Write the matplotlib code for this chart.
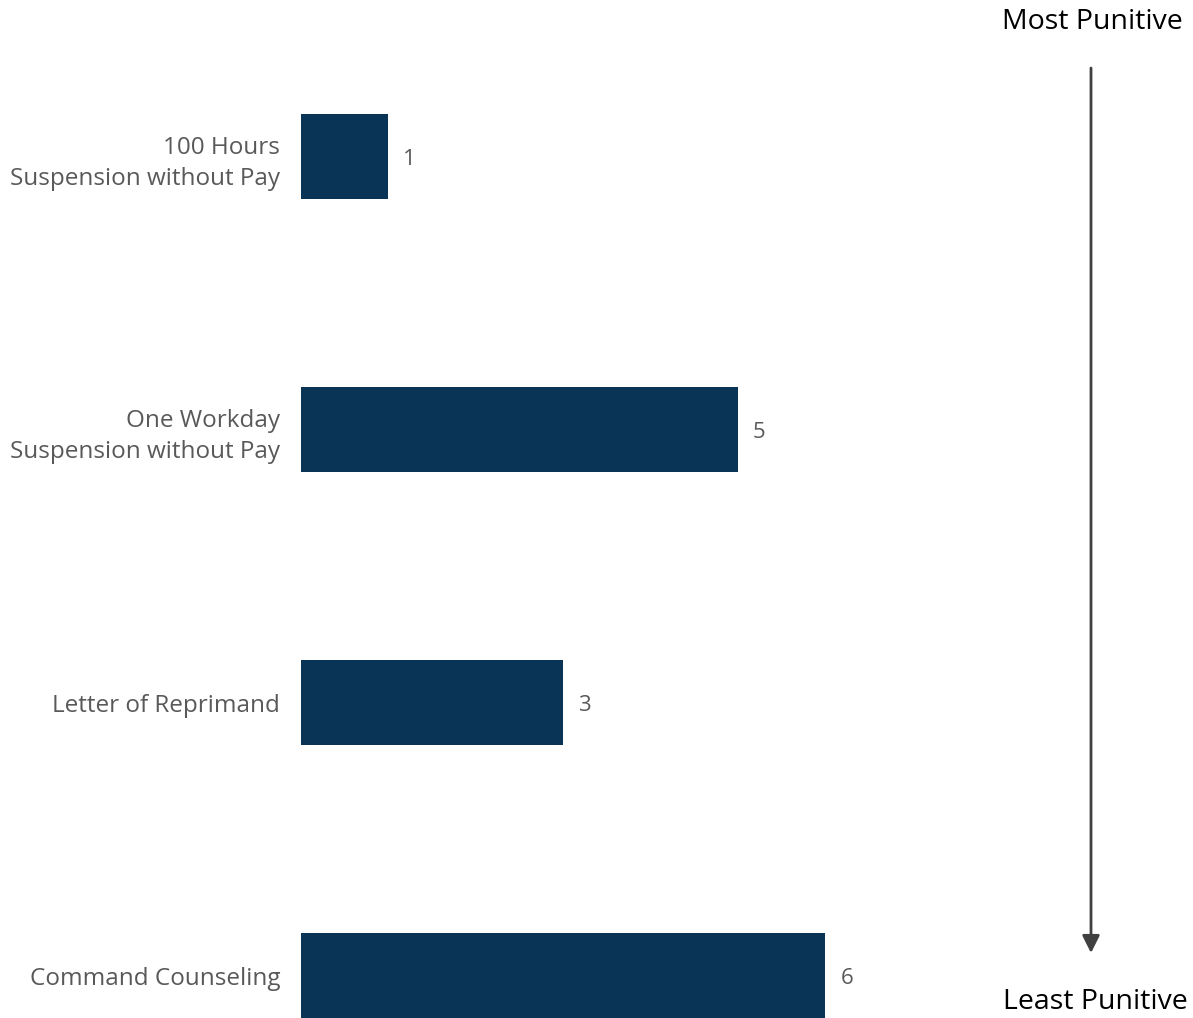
import matplotlib
matplotlib.use("Agg")
import matplotlib.pyplot as plt

categories = ["100 Hours\nSuspension without Pay", "One Workday\nSuspension without Pay",
              "Letter of Reprimand", "Command Counseling"]
values = [1, 5, 3, 6]

W, H = 1193, 1018
fig = plt.figure(figsize=(W / 100, H / 100), dpi=100)
plt.rcParams['font.family'] = ['Open Sans', 'DejaVu Sans']

left_px = 301
right_px = 301 + 8 * 87.4
ax = fig.add_axes([left_px / W, 0, (right_px - left_px) / W, 1])
pos = list(range(len(categories)))
ax.barh(pos, values, height=0.311, color="#0a3455")
ax.set_xlim(0, 8)
ax.set_ylim((1018 - 156.5) / 273, -156.5 / 273)
for s in ax.spines.values():
    s.set_visible(False)
ax.set_xticks([])
ax.set_yticks(pos)
ax.set_yticklabels(categories, fontsize=17.5, color="#595959", ha="right",
                   linespacing=1.4)
ax.tick_params(axis="y", length=0, pad=15)
for p, v in zip(pos, values):
    ax.text(v + 0.17, p + 0.01, str(v), va="center", ha="left", fontsize=16, color="#595959")

fig.text(1092 / W, 1 - 22 / H, "Most Punitive", ha="center", va="center", fontsize=20.5, color="black")
fig.text(1095.5 / W, 1 - 1002 / H, "Least Punitive", ha="center", va="center", fontsize=20.5, color="black")
fig.add_artist(matplotlib.patches.FancyArrowPatch(
    (1091 / W, 1 - 68 / H), (1091 / W, 1 - 953 / H), transform=fig.transFigure,
    arrowstyle="-|>,head_length=0.7,head_width=0.35", mutation_scale=15,
    color="#404040", lw=2, shrinkA=0, shrinkB=0))

fig.savefig("out.png", dpi=100)
